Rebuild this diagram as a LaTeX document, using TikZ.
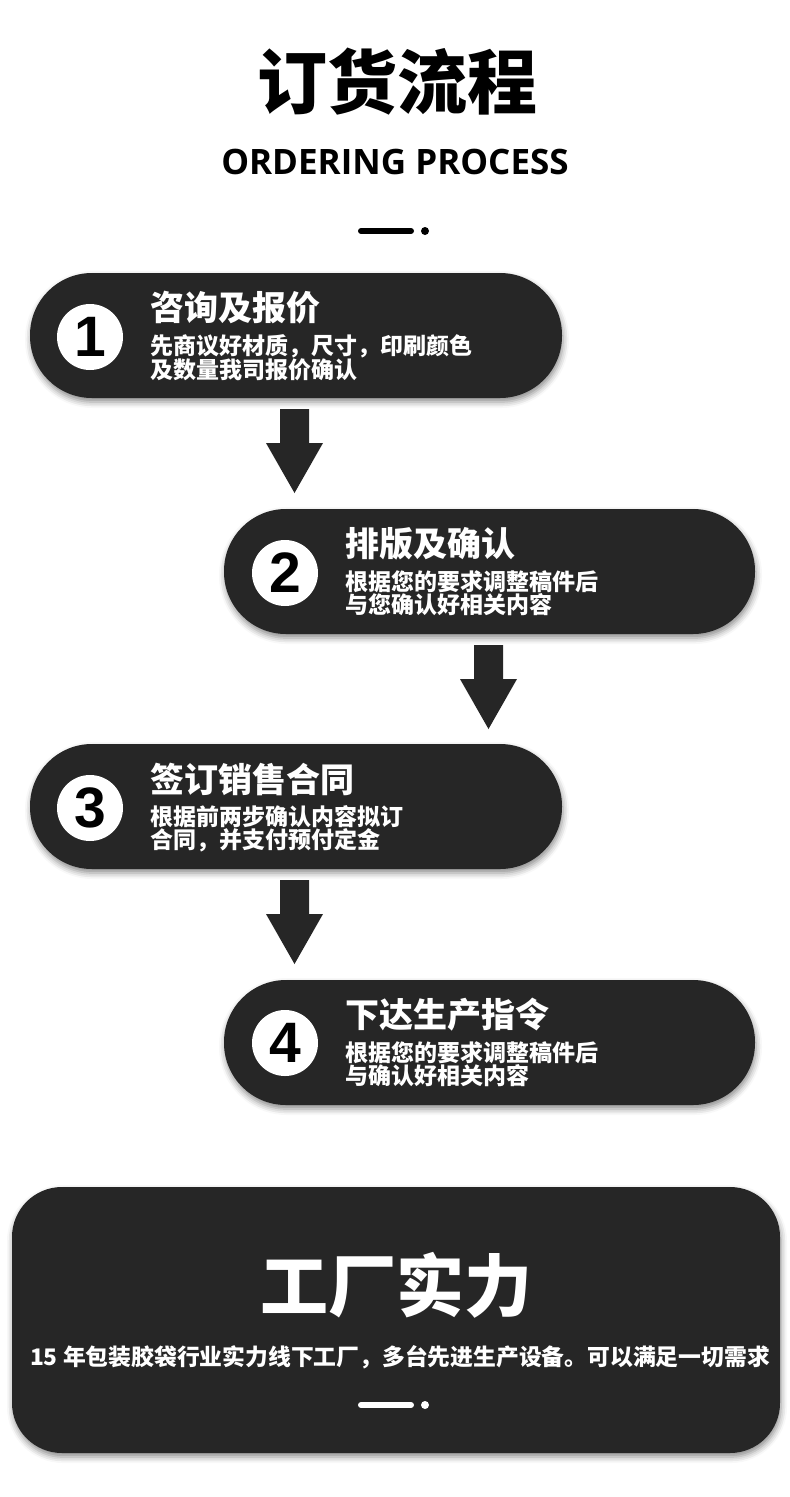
\documentclass[tikz,border=0pt]{standalone}
\usepackage{fontspec}
\setmainfont{Open Sans}
\newfontfamily\cjk{Noto Sans CJK SC}
\newfontfamily\numfont{Liberation Sans}
\usetikzlibrary{shadows.blur}
\definecolor{dark}{HTML}{262626}
\begin{document}
\begin{tikzpicture}[x=1pt,y=-1pt,
  pill/.style={fill=dark, rounded corners=62pt, minimum width=532pt, minimum height=125pt, inner sep=0pt,
    blur shadow={shadow xshift=1pt, shadow yshift=-4pt, shadow blur radius=6pt, shadow opacity=45}},
  numcirc/.style={circle, fill=white, minimum size=66pt, inner sep=0pt, font=\numfont\bfseries\fontsize{57}{57}\selectfont, text=black},
  ptitle/.style={anchor=west, inner sep=0pt, text=white, font=\cjk\bfseries\fontsize{34}{34}\selectfont},
  psub/.style={anchor=north west, inner sep=0pt, text=white, align=left, font=\cjk\bfseries\fontsize{23}{21}\selectfont},
  blockarrow/.style={fill=dark}
]
\useasboundingbox (0,0) rectangle (790,1497);

% title
\node[inner sep=0pt, font=\cjk\bfseries\fontsize{70}{70}\selectfont] (title) at (397,82) {订货流程};
\node[inner sep=0pt, font=\bfseries\fontsize{35}{35}\selectfont] (subtitle) at (395,162) {ORDERING PROCESS};
\draw[line width=6pt, line cap=round, black] (361,231) -- (411,231);
\fill[black] (425,231) circle (4);

% step 1
\node[pill] (p1) at (296,335.5) {};
\node[numcirc] (c1) at (90,337) {1};
\node[ptitle] (t1) at (150,308) {咨询及报价};
\node[psub] (s1) at (150,334) {先商议好材质，尺寸，印刷颜色\\及数量我司报价确认};

% arrow 1
\fill[blockarrow] (280,409) -- (309,409) -- (309,443) -- (323,443) -- (294.5,493) -- (266,443) -- (280,443) -- cycle;

% step 2
\node[pill, minimum width=531pt] (p2) at (489.5,571.5) {};
\node[numcirc] (c2) at (285,573) {2};
\node[ptitle] (t2) at (345,544) {排版及确认};
\node[psub] (s2) at (345,570) {根据您的要求调整稿件后\\与您确认好相关内容};

% arrow 2
\fill[blockarrow] (474,645) -- (503,645) -- (503,679) -- (517,679) -- (488.5,729) -- (460,679) -- (474,679) -- cycle;

% step 3
\node[pill] (p3) at (296,806.5) {};
\node[numcirc] (c3) at (90,808) {3};
\node[ptitle] (t3) at (150,779) {签订销售合同};
\node[psub] (s3) at (150,805) {根据前两步确认内容拟订\\合同，并支付预付定金};

% arrow 3
\fill[blockarrow] (280,880) -- (309,880) -- (309,914) -- (323,914) -- (294.5,964) -- (266,914) -- (280,914) -- cycle;

% step 4
\node[pill, minimum width=531pt] (p4) at (489.5,1042.5) {};
\node[numcirc] (c4) at (285,1043) {4};
\node[ptitle] (t4) at (345,1015) {下达生产指令};
\node[psub] (s4) at (345,1041) {根据您的要求调整稿件后\\与确认好相关内容};

% factory box
\node[fill=dark, rounded corners=50pt, minimum width=768pt, minimum height=266pt, inner sep=0pt,
  blur shadow={shadow xshift=1pt, shadow yshift=-4pt, shadow blur radius=6pt, shadow opacity=45}] (box) at (396,1320) {};
\node[inner sep=0pt, text=white, font=\cjk\bfseries\fontsize{68}{68}\selectfont] (ft) at (396,1285) {工厂实力};
\node[inner sep=0pt, text=white, font=\cjk\bfseries\fontsize{22.8}{22.8}\selectfont] (fs) at (400,1357) {15 年包装胶袋行业实力线下工厂，多台先进生产设备。可以满足一切需求};
\draw[line width=6pt, line cap=round, white] (361,1405) -- (411,1405);
\fill[white] (425,1405) circle (4);
\end{tikzpicture}
\end{document}
